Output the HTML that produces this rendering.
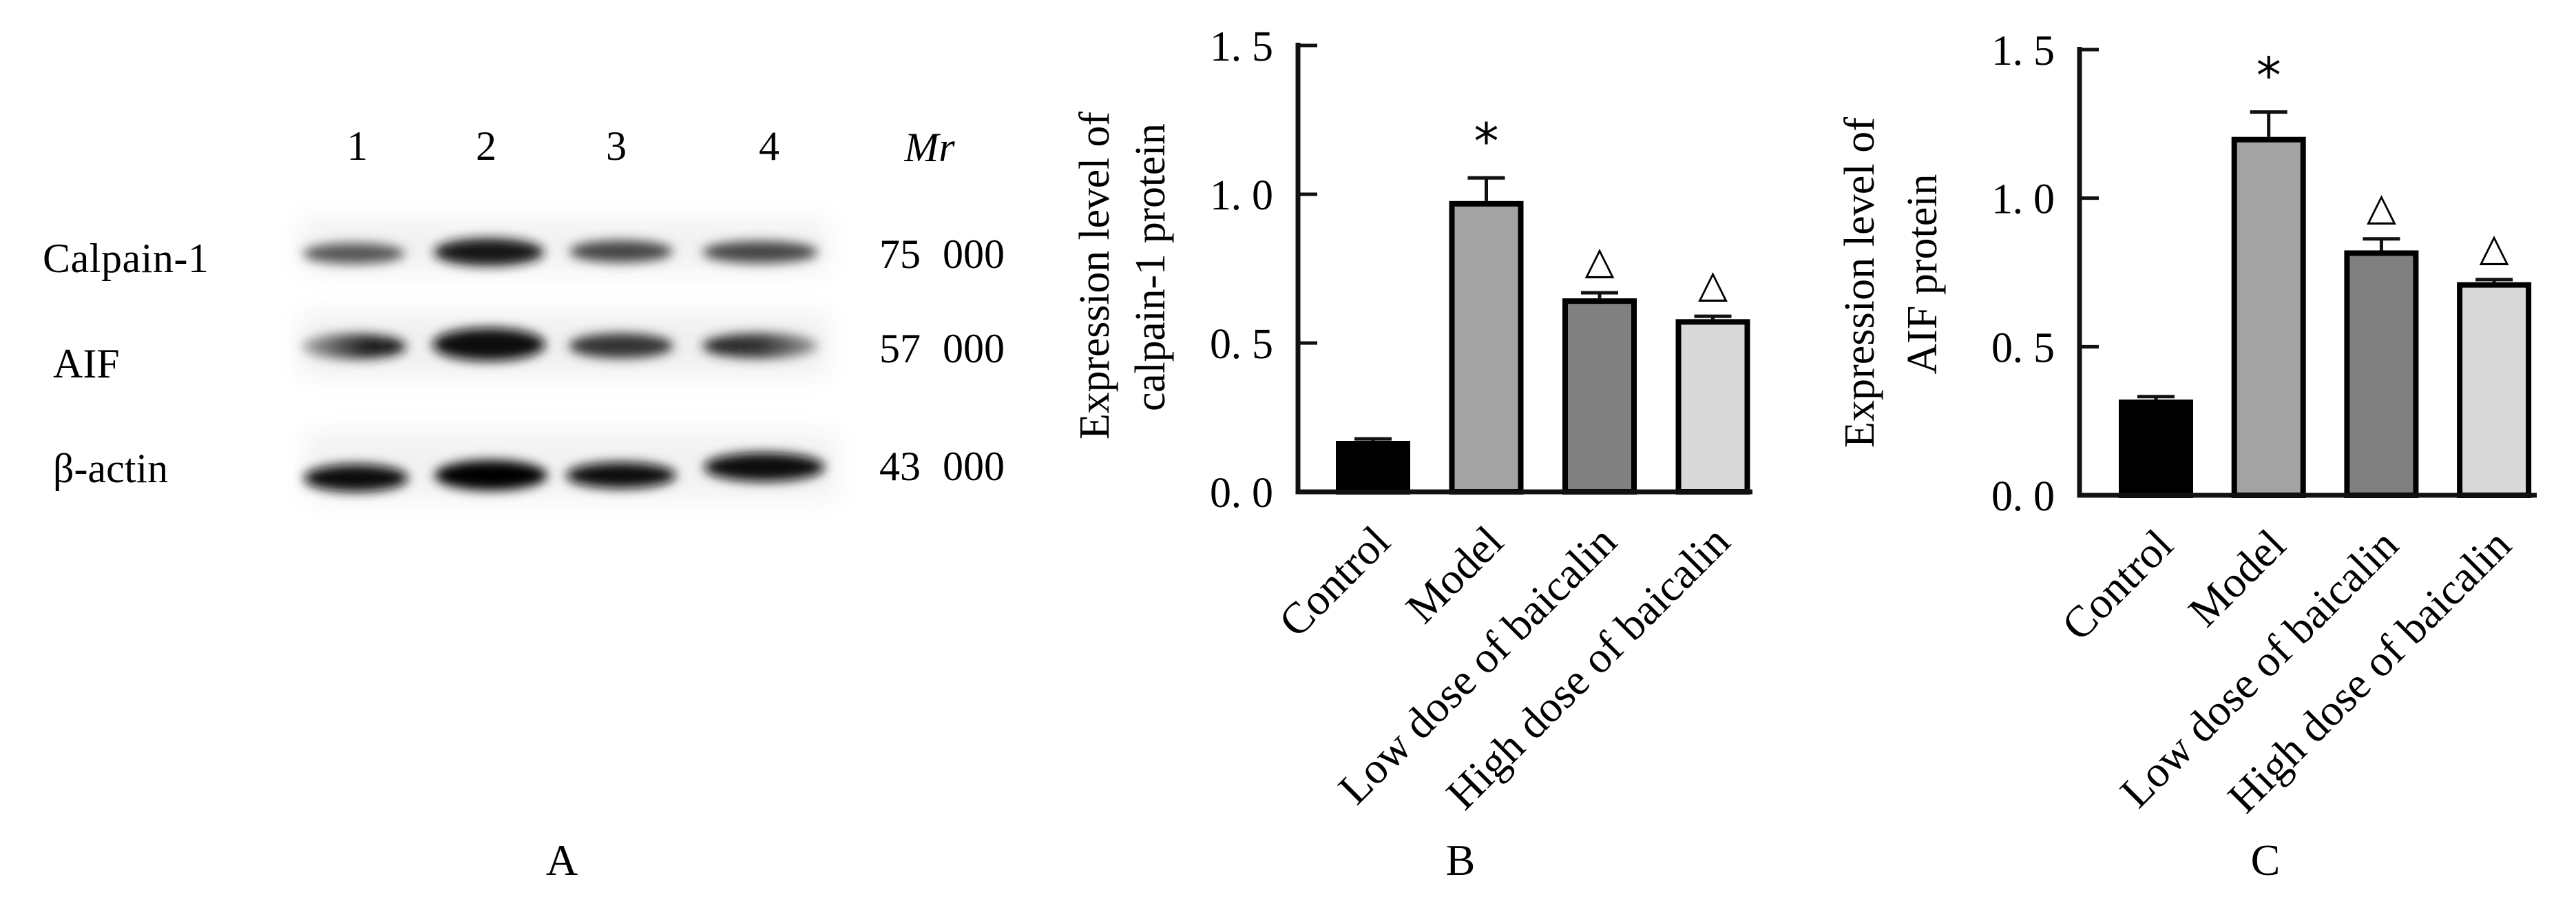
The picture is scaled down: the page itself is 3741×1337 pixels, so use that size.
<!DOCTYPE html>
<html><head><meta charset="utf-8"><style>
html,body{margin:0;padding:0;background:#fff;}
svg{display:block;font-family:"Liberation Serif",serif;}
</style></head><body>
<svg id="fig" width="3741" height="1337" viewBox="0 0 3741 1337" xmlns="http://www.w3.org/2000/svg">
<defs>
<filter id="blur8" x="-30%" y="-80%" width="160%" height="260%"><feGaussianBlur stdDeviation="8"/></filter>
<filter id="blur20" x="-30%" y="-80%" width="160%" height="260%"><feGaussianBlur stdDeviation="18"/></filter>
<linearGradient id="aif1" x1="0" x2="1"><stop offset="0" stop-color="#aaa"/><stop offset="0.6" stop-color="#222"/><stop offset="1" stop-color="#111"/></linearGradient>
<linearGradient id="aif4" x1="0" x2="1"><stop offset="0" stop-color="#222"/><stop offset="0.5" stop-color="#333"/><stop offset="1" stop-color="#999"/></linearGradient>
</defs>
<g id="panel-a">
  <rect x="437" y="318" width="765" height="76" fill="#f2f2f2" filter="url(#blur20)"/>
  <rect x="437" y="455" width="765" height="90" fill="#f0f0f0" filter="url(#blur20)"/>
  <rect x="445" y="628" width="770" height="96" fill="#f2f2f2" filter="url(#blur20)"/>
  <g filter="url(#blur8)">
    <ellipse cx="514" cy="368" rx="74" ry="15" fill="#555"/>
    <ellipse cx="710" cy="366" rx="80" ry="20" fill="#151515"/>
    <ellipse cx="902" cy="365" rx="75" ry="16" fill="#444"/>
    <ellipse cx="1104" cy="366" rx="84" ry="16" fill="#444"/>
    <ellipse cx="514" cy="503" rx="76" ry="18" fill="url(#aif1)"/>
    <ellipse cx="710" cy="500" rx="82" ry="24" fill="#0a0a0a"/>
    <ellipse cx="902" cy="502" rx="76" ry="18" fill="#333"/>
    <ellipse cx="1104" cy="502" rx="84" ry="18" fill="url(#aif4)"/>
    <ellipse cx="517" cy="694" rx="76" ry="20" fill="#080808"/>
    <ellipse cx="713" cy="690" rx="82" ry="22" fill="#050505"/>
    <ellipse cx="902" cy="690" rx="80" ry="19" fill="#080808"/>
    <ellipse cx="1110" cy="678" rx="88" ry="21" fill="#080808"/>
  </g>
  <g font-size="60" text-anchor="middle">
    <text x="519" y="232">1</text>
    <text x="706" y="232">2</text>
    <text x="895" y="232">3</text>
    <text x="1117" y="232">4</text>
    <text x="1350" y="234" font-style="italic">Mr</text>
  </g>
  <g font-size="60">
    <text x="62" y="395" textLength="241">Calpain-1</text>
    <text x="77" y="548">AIF</text>
    <text x="77" y="700">β-actin</text>
  </g>
  <g font-size="60">
    <text x="1277" y="389">75</text><text x="1459" y="389" text-anchor="end">000</text>
    <text x="1277" y="526">57</text><text x="1459" y="526" text-anchor="end">000</text>
    <text x="1277" y="697">43</text><text x="1459" y="697" text-anchor="end">000</text>
  </g>
  <text x="816" y="1270" font-size="64" text-anchor="middle">A</text>
</g>
<g id="panel-b"></g>
<g id="panel-c"></g>
</svg>
<script>
const categories = ["Control", "Model", "Low dose of baicalin", "High dose of baicalin"];
const calpainValues = [0.162, 0.968, 0.641, 0.571];
const calpainErrors = [0.016, 0.087, 0.028, 0.019];
const calpainMarks = ["", "*", "△", "△"];
const aifValues = [0.313, 1.197, 0.815, 0.708];
const aifErrors = [0.019, 0.093, 0.048, 0.018];
const aifMarks = ["", "*", "△", "△"];
const tickValues = [0, 0.5, 1.0, 1.5];
const tickLabels = ["0. 0", "0. 5", "1. 0", "1. 5"];
const barFills = ["#000000", "#a3a3a3", "#808080", "#d9d9d9"];

const NS = "http://www.w3.org/2000/svg";
function mk(tag, attrs, parent) {
  const e = document.createElementNS(NS, tag);
  for (const k in attrs) e.setAttribute(k, attrs[k]);
  parent.appendChild(e);
  return e;
}
function drawChart(g, cfg, values, errors, marks) {
  const yScale = v => cfg.base - (v / 1.5) * (cfg.base - cfg.top);
  const xScale = i => cfg.axisX + cfg.first + i * cfg.step;
  values.forEach((v, i) => {
    const cx = xScale(i), w = 100;
    const r = mk("rect", {x: cx - w / 2, y: yScale(v), width: w, height: cfg.base - yScale(v), fill: barFills[i], stroke: "#000", "stroke-width": 8}, g);
    
    
    const e = mk("path", {d: `M${cx} ${yScale(v) - 4}V${yScale(v + errors[i])}M${cx - 27} ${yScale(v + errors[i])}H${cx + 27}`, stroke: "#111", "stroke-width": 5, fill: "none"}, g);
    
    
    if (marks[i]) {
      const isStar = marks[i] === "*";
      const t = mk("text", {x: cx, y: yScale(v + errors[i]) - 28, "font-size": isStar ? 72 : 56, "text-anchor": "middle", "font-family": '"DejaVu Sans", sans-serif'}, g);
      t.textContent = marks[i];
      
      
    }
    const lbl = mk("text", {x: 0, y: 0, "font-size": 64, "text-anchor": "end", transform: `translate(${cx + 28},${cfg.base + 76}) rotate(-45)`}, g);
    lbl.textContent = categories[i];
    
    
  });
  const ax = mk("path", {d: `M${cfg.axisX} ${cfg.top - 4}V${cfg.base}H${cfg.axisEnd}`, stroke: "#111", "stroke-width": 7, fill: "none"}, g);
  
  
  tickValues.forEach((tv, i) => {
    const y = yScale(tv);
    const tk = mk("line", {x1: cfg.axisX, x2: cfg.axisX + 28, y1: y, y2: y, stroke: "#111", "stroke-width": 5}, g);
    
    
    const tl = mk("text", {x: cfg.axisX - 36, y: y + 22, "font-size": 62, "text-anchor": "end", textLength: 92, lengthAdjust: "spacing"}, g);
    tl.textContent = tickLabels[i];
    
    
  });
  cfg.title.forEach((line, j) => {
    const t = mk("text", {x: 0, y: 0, "font-size": 62, "text-anchor": "middle", transform: `translate(${cfg.titleX[j]},${cfg.titleY[j]}) rotate(-90)`}, g);
    if (cfg.titleLen[j]) t.setAttribute("textLength", cfg.titleLen[j]);
    t.textContent = line;
    
    
  });
  const pl = mk("text", {x: cfg.labelX, y: 1270, "font-size": 64, "text-anchor": "middle"}, g);
  pl.textContent = cfg.label;
  
  
}
drawChart(document.getElementById("panel-b"),
  {axisX: 1885, axisEnd: 2545, top: 66, base: 714, first: 109, step: 164.5,
   title: ["Expression level of", "calpain-1 protein"], titleX: [1610, 1691], titleY: [400, 388], titleLen: [476, 418], label: "B", labelX: 2121},
  calpainValues, calpainErrors, calpainMarks);
drawChart(document.getElementById("panel-c"),
  {axisX: 3020, axisEnd: 3684, top: 72, base: 719, first: 111, step: 163.7,
   title: ["Expression level of", "AIF protein"], titleX: [2721, 2812], titleY: [410, 398], titleLen: [480, 0], label: "C", labelX: 3290},
  aifValues, aifErrors, aifMarks);
</script>
</body></html>
